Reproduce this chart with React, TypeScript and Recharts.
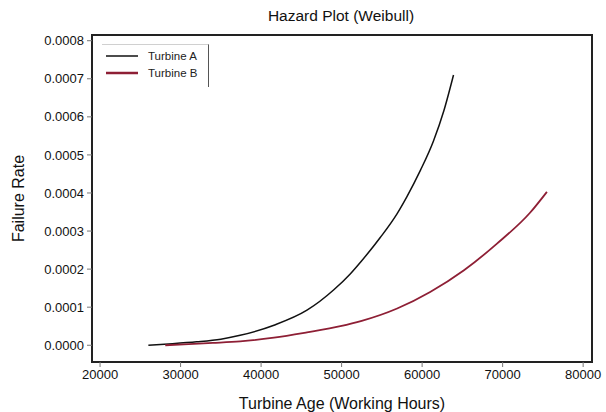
import { Line, LineChart, ReferenceArea, XAxis, YAxis } from 'recharts';

// hazard curves (hours, failures per hour)
const turbineA = [
  { hours: 26000, rate: 0 },
  { hours: 29000, rate: 0.000004 },
  { hours: 32000, rate: 0.000009 },
  { hours: 35000, rate: 0.000016 },
  { hours: 37400, rate: 0.000026 },
  { hours: 41600, rate: 0.0000526 },
  { hours: 45700, rate: 0.000092 },
  { hours: 49000, rate: 0.000145 },
  { hours: 51100, rate: 0.000188 },
  { hours: 52500, rate: 0.000222 },
  { hours: 54800, rate: 0.000283 },
  { hours: 56900, rate: 0.000346 },
  { hours: 58100, rate: 0.00039 },
  { hours: 59800, rate: 0.00046 },
  { hours: 61400, rate: 0.000536 },
  { hours: 62700, rate: 0.000616 },
  { hours: 63900, rate: 0.00071 },
];

const turbineB = [
  { hours: 28100, rate: 0 },
  { hours: 31000, rate: 0.000003 },
  { hours: 34000, rate: 0.000006 },
  { hours: 37400, rate: 0.00001 },
  { hours: 41600, rate: 0.00002 },
  { hours: 45700, rate: 0.000034 },
  { hours: 49850, rate: 0.00005 },
  { hours: 52500, rate: 0.000064 },
  { hours: 56900, rate: 0.0000965 },
  { hours: 61000, rate: 0.00014 },
  { hours: 65200, rate: 0.000197 },
  { hours: 69300, rate: 0.000267 },
  { hours: 73400, rate: 0.000348 },
  { hours: 75500, rate: 0.000403 },
];

const xTicks = [20000, 30000, 40000, 50000, 60000, 70000, 80000];
const yTicks = [0, 0.0001, 0.0002, 0.0003, 0.0004, 0.0005, 0.0006, 0.0007, 0.0008];
const xDomain: [number, number] = [19000, 81100];
const yDomain: [number, number] = [-0.000044, 0.000815];

const RED = '#8e1f35';
const FONT = '"Liberation Sans", Arial, sans-serif';

const legendItems = [
  { label: 'Turbine A', color: '#111', width: 1.5 },
  { label: 'Turbine B', color: RED, width: 2.5 },
];

function LegendBox() {
  return (
    <div
      style={{
        position: 'absolute',
        left: 102,
        top: 44,
        width: 107,
        height: 43,
        borderTop: '1px solid #d0d0d0',
        borderRight: '1px solid #555',
        boxSizing: 'border-box',
        paddingTop: 2,
        fontFamily: FONT,
        fontSize: 11.5,
        color: '#222',
      }}
    >
      {legendItems.map((it) => (
        <div key={it.label} style={{ display: 'flex', alignItems: 'center', height: 17 }}>
          <svg width={42} height={10} style={{ marginLeft: 4 }}>
            <line x1={0} y1={5} x2={32} y2={5} stroke={it.color} strokeWidth={it.width} />
          </svg>
          <span>{it.label}</span>
        </div>
      ))}
    </div>
  );
}

export default function App() {
  return (
    <div style={{ position: 'absolute', left: 0, top: 0, width: 606, height: 412, background: '#fff' }}>
      <div
        style={{
          position: 'absolute',
          top: 7,
          left: 91,
          width: 500,
          textAlign: 'center',
          fontFamily: FONT,
          fontSize: 15.5,
          color: '#111',
        }}
      >
        Hazard Plot (Weibull)
      </div>
      <LineChart width={606} height={412} margin={{ top: 35, right: 14, bottom: 20, left: 12 }}>
        <XAxis
          type="number"
          dataKey="hours"
          height={30}
          domain={xDomain}
          ticks={xTicks}
          allowDataOverflow
          axisLine={false}
          tickLine={{ stroke: '#777' }}
          tickSize={5}
          tickMargin={3}
          tick={{ fill: '#111', fontSize: 13, fontFamily: FONT }}
          label={{
            value: 'Turbine Age (Working Hours)',
            position: 'insideBottom',
            offset: -17,
            fill: '#111',
            fontSize: 16,
            fontFamily: FONT,
          }}
        />
        <YAxis
          type="number"
          dataKey="rate"
          width={80}
          domain={yDomain}
          ticks={yTicks}
          allowDataOverflow
          axisLine={false}
          tickLine={{ stroke: '#777' }}
          tickSize={5}
          tickMargin={3}
          tickFormatter={(v: number) => v.toFixed(4)}
          tick={{ fill: '#111', fontSize: 13, fontFamily: FONT }}
          label={{
            value: 'Failure Rate',
            angle: -90,
            position: 'insideLeft',
            offset: 6,
            fill: '#111',
            fontSize: 16,
            fontFamily: FONT,
            style: { textAnchor: 'middle' },
          }}
        />
        <ReferenceArea
          x1={xDomain[0]}
          x2={xDomain[1]}
          y1={yDomain[0]}
          y2={yDomain[1]}
          fill="none"
          stroke="#222"
          strokeWidth={2}
        />
        <Line
          data={turbineA}
          dataKey="rate"
          type="monotone"
          stroke="#111"
          strokeWidth={1.5}
          dot={false}
          isAnimationActive={false}
          name="Turbine A"
        />
        <Line
          data={turbineB}
          dataKey="rate"
          type="monotone"
          stroke={RED}
          strokeWidth={1.8}
          dot={false}
          isAnimationActive={false}
          name="Turbine B"
        />
      </LineChart>
      <LegendBox />
    </div>
  );
}
